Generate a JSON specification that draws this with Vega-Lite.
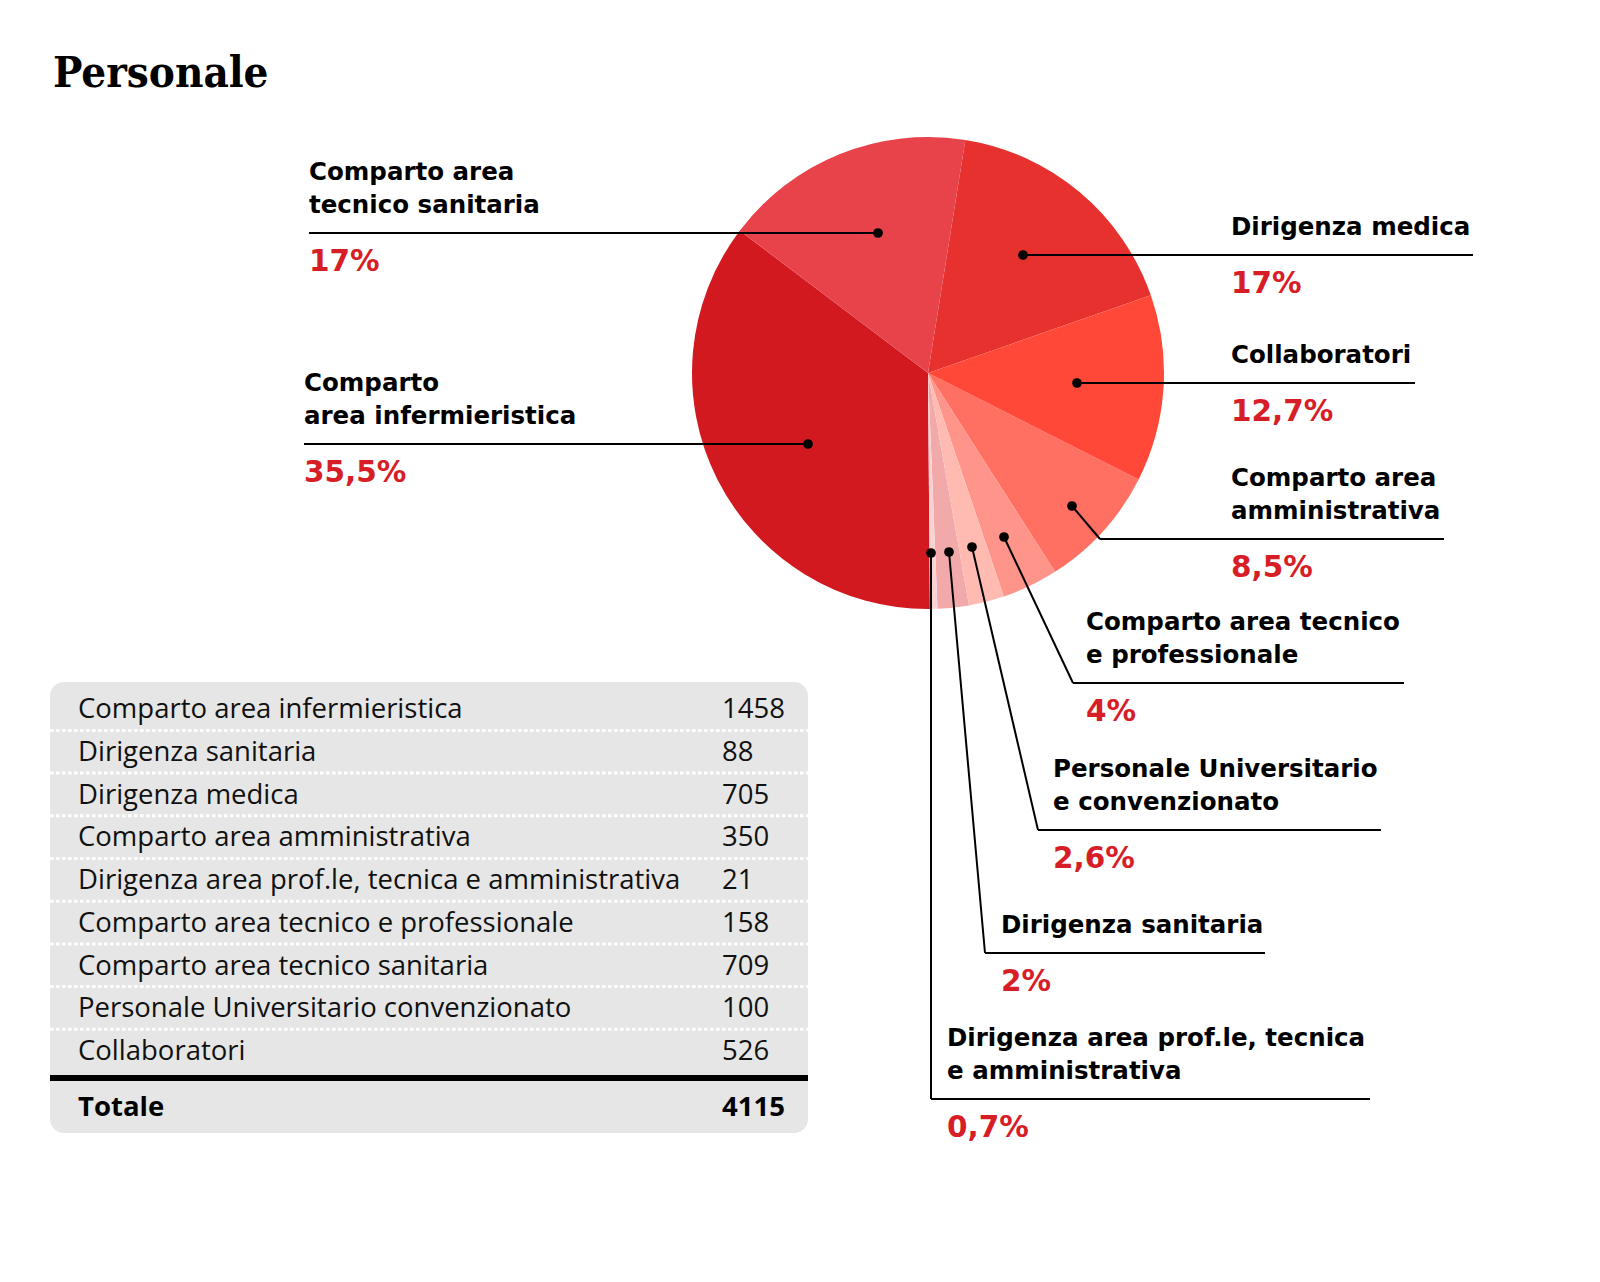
{
  "$schema": "https://vega.github.io/schema/vega-lite/v6.json",
  "width": 1344,
  "height": 746,
  "autosize": "none",
  "padding": {"left": 256, "top": 0, "right": 0, "bottom": 536},
  "background": "white",
  "config": {"view": {"stroke": null}},
  "datasets": {
    "staff": [
      {"name": "Comparto area infermieristica", "value": 1458, "slice": 8},
      {"name": "Dirigenza sanitaria", "value": 88, "slice": 6},
      {"name": "Dirigenza medica", "value": 705, "slice": 1},
      {"name": "Comparto area amministrativa", "value": 350, "slice": 3},
      {"name": "Dirigenza area prof.le, tecnica e amministrativa", "value": 21, "slice": 7},
      {"name": "Comparto area tecnico e professionale", "value": 158, "slice": 4},
      {"name": "Comparto area tecnico sanitaria", "value": 709, "slice": 9},
      {"name": "Personale Universitario convenzionato", "value": 100, "slice": 5},
      {"name": "Collaboratori", "value": 526, "slice": 2}
    ],
    "labels": [
      {"l1": "Comparto area", "l2": "tecnico sanitaria", "pct": "17%", "px": -50, "py": -140, "kx": -50, "ky": -140, "ex": -619, "tx": -619},
      {"l1": "Comparto", "l2": "area infermieristica", "pct": "35,5%", "px": -120, "py": 71, "kx": -120, "ky": 71, "ex": -624, "tx": -624},
      {"l1": "", "l2": "Dirigenza medica", "pct": "17%", "px": 95, "py": -118, "kx": 95, "ky": -118, "ex": 545, "tx": 303},
      {"l1": "", "l2": "Collaboratori", "pct": "12,7%", "px": 149, "py": 10, "kx": 149, "ky": 10, "ex": 487, "tx": 303},
      {"l1": "Comparto area", "l2": "amministrativa", "pct": "8,5%", "px": 144, "py": 133, "kx": 172, "ky": 166, "ex": 516, "tx": 303},
      {"l1": "Comparto area tecnico", "l2": "e professionale", "pct": "4%", "px": 76, "py": 164, "kx": 145, "ky": 310, "ex": 476, "tx": 158},
      {"l1": "Personale Universitario", "l2": "e convenzionato", "pct": "2,6%", "px": 44, "py": 174, "kx": 110, "ky": 457, "ex": 453, "tx": 125},
      {"l1": "", "l2": "Dirigenza sanitaria", "pct": "2%", "px": 21, "py": 179, "kx": 57, "ky": 580, "ex": 337, "tx": 73},
      {"l1": "Dirigenza area prof.le, tecnica", "l2": "e amministrativa", "pct": "0,7%", "px": 3, "py": 180, "kx": 3, "ky": 726, "ex": 442, "tx": 19}
    ]
  },
  "layer": [
    {
      "layer": [
        {
          "data": {"name": "staff"},
          "mark": {"type": "arc", "outerRadius": 236, "stroke": null},
          "encoding": {
            "theta": {"field": "value", "type": "quantitative", "stack": true, "scale": {"range": [0.159, 6.4422]}},
            "order": {"field": "slice", "type": "quantitative"},
            "color": {
              "field": "name", "type": "nominal", "legend": null,
              "scale": {
                "domain": ["Comparto area infermieristica", "Comparto area tecnico sanitaria", "Dirigenza medica", "Collaboratori", "Comparto area amministrativa", "Comparto area tecnico e professionale", "Personale Universitario convenzionato", "Dirigenza sanitaria", "Dirigenza area prof.le, tecnica e amministrativa"],
                "range": ["#d1191f", "#e8434b", "#e6312e", "#ff4837", "#ff7062", "#ff958a", "#ffbbb1", "#f2a9aa", "#f8d3d3"]
              }
            }
          }
        },
        {
          "data": {"name": "labels"},
          "mark": {"type": "rule", "color": "#000000", "strokeWidth": 2},
          "encoding": {
            "x": {"field": "px", "type": "quantitative", "axis": null, "scale": {"domain": [-672, 672], "nice": false, "zero": false}},
            "y": {"field": "py", "type": "quantitative", "axis": null, "scale": {"domain": [-373, 373], "reverse": true, "nice": false, "zero": false}},
            "x2": {"field": "kx"},
            "y2": {"field": "ky"}
          }
        },
        {
          "data": {"name": "labels"},
          "mark": {"type": "rule", "color": "#000000", "strokeWidth": 2},
          "encoding": {
            "x": {"field": "kx", "type": "quantitative", "axis": null, "scale": {"domain": [-672, 672], "nice": false, "zero": false}},
            "y": {"field": "ky", "type": "quantitative", "axis": null, "scale": {"domain": [-373, 373], "reverse": true, "nice": false, "zero": false}},
            "x2": {"field": "ex"}
          }
        },
        {
          "data": {"name": "labels"},
          "mark": {"type": "point", "filled": true, "color": "#000000", "size": 95, "opacity": 1},
          "encoding": {
            "x": {"field": "px", "type": "quantitative", "axis": null, "scale": {"domain": [-672, 672], "nice": false, "zero": false}},
            "y": {"field": "py", "type": "quantitative", "axis": null, "scale": {"domain": [-373, 373], "reverse": true, "nice": false, "zero": false}}
          }
        },
        {
          "data": {"name": "labels"},
          "mark": {"type": "text", "align": "left", "baseline": "alphabetic", "font": "DejaVu Sans", "fontWeight": "bold", "fontSize": 24.5, "color": "#000000", "dy": -53},
          "encoding": {
            "x": {"field": "tx", "type": "quantitative", "axis": null, "scale": {"domain": [-672, 672], "nice": false, "zero": false}},
            "y": {"field": "ky", "type": "quantitative", "axis": null, "scale": {"domain": [-373, 373], "reverse": true, "nice": false, "zero": false}},
            "text": {"field": "l1"}
          }
        },
        {
          "data": {"name": "labels"},
          "mark": {"type": "text", "align": "left", "baseline": "alphabetic", "font": "DejaVu Sans", "fontWeight": "bold", "fontSize": 24.5, "color": "#000000", "dy": -20.5},
          "encoding": {
            "x": {"field": "tx", "type": "quantitative", "axis": null, "scale": {"domain": [-672, 672], "nice": false, "zero": false}},
            "y": {"field": "ky", "type": "quantitative", "axis": null, "scale": {"domain": [-373, 373], "reverse": true, "nice": false, "zero": false}},
            "text": {"field": "l2"}
          }
        },
        {
          "data": {"name": "labels"},
          "mark": {"type": "text", "align": "left", "baseline": "alphabetic", "font": "DejaVu Sans", "fontWeight": "bold", "fontSize": 29.5, "color": "#d71e27", "dy": 38},
          "encoding": {
            "x": {"field": "tx", "type": "quantitative", "axis": null, "scale": {"domain": [-672, 672], "nice": false, "zero": false}},
            "y": {"field": "ky", "type": "quantitative", "axis": null, "scale": {"domain": [-373, 373], "reverse": true, "nice": false, "zero": false}},
            "text": {"field": "pct"}
          }
        },
        {
          "data": {"values": [{"title": "Personale"}]},
          "mark": {"type": "text", "align": "left", "baseline": "alphabetic", "font": "DejaVu Serif Condensed, DejaVu Serif", "fontWeight": 900, "fontSize": 43.5, "color": "#000000"},
          "encoding": {
            "x": {"datum": -875, "type": "quantitative", "axis": null, "scale": {"domain": [-672, 672], "nice": false, "zero": false}},
            "y": {"datum": -286, "type": "quantitative", "axis": null, "scale": {"domain": [-373, 373], "reverse": true, "nice": false, "zero": false}},
            "text": {"field": "title"}
          }
        }
      ]
    },
    {
      "layer": [
        {
          "data": {"values": [{}]},
          "mark": {"type": "rect", "color": "#e6e6e6", "cornerRadius": 14},
          "encoding": {
            "x": {"datum": -878, "type": "quantitative", "axis": null, "scale": {"domain": [-672, 672], "nice": false, "zero": false}},
            "x2": {"datum": -120},
            "y": {"datum": 0.171, "type": "quantitative", "axis": null, "scale": {"domain": [-15.8, 1.67], "reverse": true, "nice": false, "zero": false}},
            "y2": {"datum": 10.733}
          }
        },
        {
          "data": {"name": "staff"},
          "transform": [{"window": [{"op": "row_number", "as": "row"}]}, {"filter": "datum.row < 9"}],
          "mark": {"type": "rule", "color": "#ffffff", "strokeWidth": 3, "strokeDash": [3.5, 2.5], "yOffset": 13},
          "encoding": {
            "x": {"datum": -878, "type": "quantitative", "axis": null, "scale": {"domain": [-672, 672], "nice": false, "zero": false}},
            "x2": {"datum": -120},
            "y": {"field": "row", "type": "quantitative", "axis": null, "scale": {"domain": [-15.8, 1.67], "reverse": true, "nice": false, "zero": false}}
          }
        },
        {
          "data": {"values": [{}]},
          "mark": {"type": "rule", "color": "#000000", "strokeWidth": 6},
          "encoding": {
            "x": {"datum": -878, "type": "quantitative", "axis": null, "scale": {"domain": [-672, 672], "nice": false, "zero": false}},
            "x2": {"datum": -120},
            "y": {"datum": 9.445, "type": "quantitative", "axis": null, "scale": {"domain": [-15.8, 1.67], "reverse": true, "nice": false, "zero": false}}
          }
        },
        {
          "data": {"name": "staff"},
          "transform": [{"window": [{"op": "row_number", "as": "row"}]}],
          "mark": {"type": "text", "align": "left", "baseline": "alphabetic", "font": "Open Sans", "fontSize": 27.5, "color": "#111111", "dy": 1},
          "encoding": {
            "x": {"datum": -850, "type": "quantitative", "axis": null, "scale": {"domain": [-672, 672], "nice": false, "zero": false}},
            "y": {"field": "row", "type": "quantitative", "axis": null, "scale": {"domain": [-15.8, 1.67], "reverse": true, "nice": false, "zero": false}},
            "text": {"field": "name"}
          }
        },
        {
          "data": {"name": "staff"},
          "transform": [{"window": [{"op": "row_number", "as": "row"}]}],
          "mark": {"type": "text", "align": "left", "baseline": "alphabetic", "font": "Open Sans", "fontSize": 27.5, "color": "#111111", "dy": 1},
          "encoding": {
            "x": {"datum": -206, "type": "quantitative", "axis": null, "scale": {"domain": [-672, 672], "nice": false, "zero": false}},
            "y": {"field": "row", "type": "quantitative", "axis": null, "scale": {"domain": [-15.8, 1.67], "reverse": true, "nice": false, "zero": false}},
            "text": {"field": "value", "type": "nominal"}
          }
        },
        {
          "data": {"name": "staff"},
          "transform": [{"aggregate": [{"op": "sum", "field": "value", "as": "total"}]}],
          "mark": {"type": "text", "align": "left", "baseline": "alphabetic", "font": "Open Sans", "fontWeight": "bold", "fontSize": 27.5, "color": "#000000", "dy": 1},
          "encoding": {
            "x": {"datum": -850, "type": "quantitative", "axis": null, "scale": {"domain": [-672, 672], "nice": false, "zero": false}},
            "y": {"datum": 10.311, "type": "quantitative", "axis": null, "scale": {"domain": [-15.8, 1.67], "reverse": true, "nice": false, "zero": false}},
            "text": {"value": "Totale"}
          }
        },
        {
          "data": {"name": "staff"},
          "transform": [{"aggregate": [{"op": "sum", "field": "value", "as": "total"}]}],
          "mark": {"type": "text", "align": "left", "baseline": "alphabetic", "font": "Open Sans", "fontWeight": "bold", "fontSize": 27.5, "color": "#000000", "dy": 1},
          "encoding": {
            "x": {"datum": -206, "type": "quantitative", "axis": null, "scale": {"domain": [-672, 672], "nice": false, "zero": false}},
            "y": {"datum": 10.311, "type": "quantitative", "axis": null, "scale": {"domain": [-15.8, 1.67], "reverse": true, "nice": false, "zero": false}},
            "text": {"field": "total", "type": "nominal"}
          }
        }
      ]
    }
  ],
  "resolve": {"scale": {"y": "independent"}}
}
